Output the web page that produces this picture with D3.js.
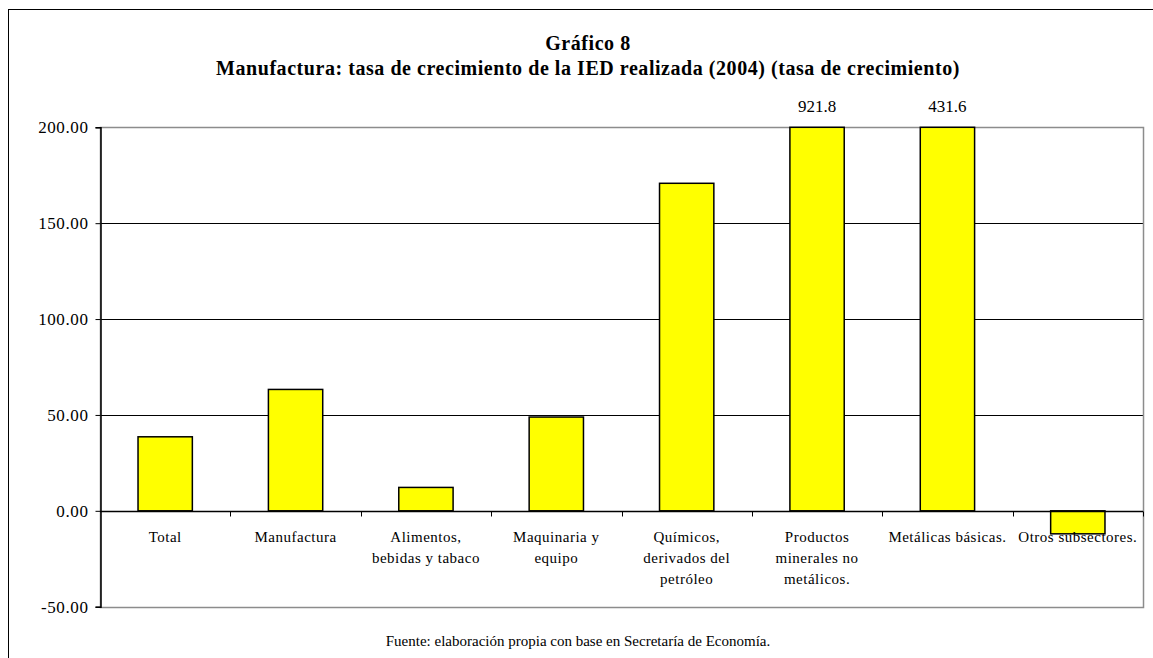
<!DOCTYPE html>
<html>
<head>
<meta charset="utf-8">
<script src="https://cdn.jsdelivr.net/npm/d3@7"></script>
<style>
  body { margin: 0; background: #fff; }
  svg { display: block; }
  svg text { font-family: "Liberation Serif", "Times New Roman", Times, serif; }
</style>
</head>
<body>
<svg id="chart" width="1153" height="658"></svg>
<script>
// Data
var categories = ["Total", "Manufactura", "Alimentos, bebidas y tabaco", "Maquinaria y equipo",
    "Químicos, derivados del petróleo", "Productos minerales no metálicos.", "Metálicas básicas.", "Otros subsectores."];
var labelLines = [["Total"], ["Manufactura"], ["Alimentos,", "bebidas y tabaco"], ["Maquinaria y", "equipo"],
    ["Químicos,", "derivados del", "petróleo"], ["Productos", "minerales no", "metálicos."], ["Metálicas básicas."], ["Otros subsectores."]];
var growth = [38.6, 63.3, 12.2, 48.9, 170.8, 921.8, 431.6, -12.0];
var yTicks = [-50, 0, 50, 100, 150, 200];
var titleLines = ["Gráfico 8", "Manufactura: tasa de crecimiento de la IED realizada (2004) (tasa de crecimiento)"];
var source = "Fuente: elaboración propia con base en Secretaría de Economía.";

function renderChart() {
    var svg = d3.select("#chart");
    var plot = { left: 100, right: 1143, top: 127.3, bottom: 606.7 };

    // plain hyphen for negatives, like the original
    var fmt = d3.formatLocale({ decimal: ".", thousands: ",", grouping: [3], currency: ["$", ""], minus: "-" }).format(".2f");

    // outer frame (runs past the right and bottom edges)
    svg.append("rect")
        .attr("x", 8.5).attr("y", 9.5)
        .attr("width", 1300).attr("height", 800)
        .attr("fill", "none").attr("stroke", "#000").attr("stroke-width", 1);

    var x = d3.scaleBand()
        .domain(categories)
        .range([plot.left, plot.right])
        .paddingInner(0.5833)
        .paddingOuter(0.29165);

    var y = d3.scaleLinear()
        .domain([-50, 200])
        .range([plot.bottom, plot.top])
        .clamp(true);

    // gridlines
    svg.append("g").selectAll("line")
        .data(yTicks.filter(function(t) { return t > -50 && t < 200; }))
        .enter().append("line")
        .attr("x1", plot.left).attr("x2", plot.right)
        .attr("y1", function(d) { return Math.round(y(d)) + 0.5; })
        .attr("y2", function(d) { return Math.round(y(d)) + 0.5; })
        .attr("stroke", "#000").attr("stroke-width", 1);

    // plot area border
    svg.append("rect")
        .attr("x", plot.left + 0.5).attr("y", Math.round(plot.top) + 0.5)
        .attr("width", plot.right - plot.left)
        .attr("height", Math.round(plot.bottom) - Math.round(plot.top))
        .attr("fill", "none").attr("stroke", "#8c8c8c").attr("stroke-width", 1.5);

    // bars
    svg.append("g").selectAll("rect")
        .data(growth)
        .enter().append("rect")
        .attr("x", function(d, i) { return x(categories[i]); })
        .attr("width", x.bandwidth())
        .attr("y", function(d) { return Math.min(y(d), y(0)); })
        .attr("height", function(d) { return Math.abs(y(d) - y(0)); })
        .attr("fill", "#ffff00")
        .attr("stroke", "#000").attr("stroke-width", 1.5);

    // data labels for bars that run off the scale
    svg.append("g").selectAll("text")
        .data(growth.map(function(v, i) { return { v: v, c: categories[i] }; }).filter(function(d) { return d.v > 200; }))
        .enter().append("text")
        .attr("x", function(d) { return x(d.c) + x.bandwidth() / 2; })
        .attr("y", y(200) - 15)
        .attr("text-anchor", "middle")
        .attr("font-size", 17)
        .text(function(d) { return d.v.toFixed(1); });

    // y axis
    var yAxis = d3.axisLeft(y)
        .tickValues(yTicks)
        .tickSize(5)
        .tickFormat(fmt);
    var gy = svg.append("g")
        .attr("transform", "translate(" + (plot.left + 0.5) + ",0)")
        .call(yAxis);
    gy.select(".domain").attr("stroke", "#000").attr("stroke-width", 1.5);
    gy.selectAll(".tick line").attr("stroke", "#000");
    gy.selectAll(".tick text")
        .attr("x", -12)
        .attr("font-size", 17)
        .attr("letter-spacing", 0.6)
        .attr("fill", "#000");

    // zero line with category separator ticks
    var y0 = Math.round(y(0)) + 0.5;
    svg.append("line")
        .attr("x1", plot.left).attr("x2", plot.right)
        .attr("y1", y0).attr("y2", y0)
        .attr("stroke", "#000").attr("stroke-width", 1.5);
    var bounds = categories.map(function(c) { return x(c) - x.step() * x.paddingOuter(); });
    bounds.push(plot.right);
    svg.append("g").selectAll("line")
        .data(bounds.slice(1))
        .enter().append("line")
        .attr("x1", function(d) { return Math.round(d) + 0.5; })
        .attr("x2", function(d) { return Math.round(d) + 0.5; })
        .attr("y1", y0).attr("y2", y0 + 5)
        .attr("stroke", "#000");

    // category labels
    var lab = svg.append("g").selectAll("text")
        .data(labelLines)
        .enter().append("text")
        .attr("text-anchor", "middle")
        .attr("font-size", 15)
        .attr("letter-spacing", 0.5)
        .attr("fill", "#000");
    lab.selectAll("tspan")
        .data(function(d, i) { return d.map(function(l) { return { l: l, c: categories[i] }; }); })
        .enter().append("tspan")
        .attr("x", function(d) { return x(d.c) + x.bandwidth() / 2; })
        .attr("y", function(d, j) { return y0 + 30 + j * 21; })
        .text(function(d) { return d.l; });

    // title
    svg.append("g").selectAll("text")
        .data(titleLines)
        .enter().append("text")
        .attr("x", 588)
        .attr("y", function(d, i) { return 50 + i * 25; })
        .attr("text-anchor", "middle")
        .attr("font-size", 20).attr("font-weight", "bold")
        .attr("letter-spacing", 0.55)
        .text(function(d) { return d; });

    // source note
    svg.append("text")
        .attr("x", 578).attr("y", 646)
        .attr("text-anchor", "middle")
        .attr("font-size", 15)
        .text(source);
}

renderChart();
</script>
</body>
</html>
